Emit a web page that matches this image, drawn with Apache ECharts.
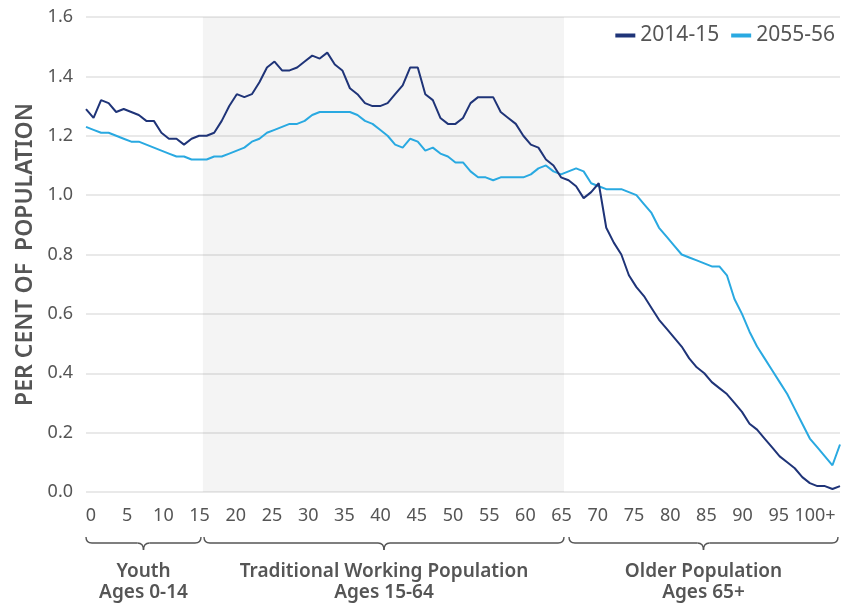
<!DOCTYPE html>
<html>

<head>
    <title>Population by age</title>
    <meta charset="utf-8">
    <script src="https://cdn.jsdelivr.net/npm/echarts@6/dist/echarts.min.js"></script>
    <style>
        html, body { margin: 0; padding: 0; background: #fff; }
    </style>
</head>

<body>
    <div id="ageChart" style="width: 844px;height:606px;"></div>
    <script>
        // single years of age 0..100 (100 = 100+)
        var ages = [];
        for (var a = 0; a <= 100; a++) ages.push(a);

        var pop2014 = [
            1.29, 1.26, 1.32, 1.31, 1.28, 1.29, 1.28, 1.27, 1.25, 1.25,
            1.21, 1.19, 1.19, 1.17, 1.19, 1.20, 1.20, 1.21, 1.25, 1.30,
            1.34, 1.33, 1.34, 1.38, 1.43, 1.45, 1.42, 1.42, 1.43, 1.45,
            1.47, 1.46, 1.48, 1.44, 1.42, 1.36, 1.34, 1.31, 1.30, 1.30,
            1.31, 1.34, 1.37, 1.43, 1.43, 1.34, 1.32, 1.26, 1.24, 1.24,
            1.26, 1.31, 1.33, 1.33, 1.33, 1.28, 1.26, 1.24, 1.20, 1.17,
            1.16, 1.12, 1.10, 1.06, 1.05, 1.03, 0.99, 1.01, 1.04, 0.89,
            0.84, 0.80, 0.73, 0.69, 0.66, 0.62, 0.58, 0.55, 0.52, 0.49,
            0.45, 0.42, 0.40, 0.37, 0.35, 0.33, 0.30, 0.27, 0.23, 0.21,
            0.18, 0.15, 0.12, 0.10, 0.08, 0.05, 0.03, 0.02, 0.02, 0.01,
            0.02
        ];

        var pop2055 = [
            1.23, 1.22, 1.21, 1.21, 1.20, 1.19, 1.18, 1.18, 1.17, 1.16,
            1.15, 1.14, 1.13, 1.13, 1.12, 1.12, 1.12, 1.13, 1.13, 1.14,
            1.15, 1.16, 1.18, 1.19, 1.21, 1.22, 1.23, 1.24, 1.24, 1.25,
            1.27, 1.28, 1.28, 1.28, 1.28, 1.28, 1.27, 1.25, 1.24, 1.22,
            1.20, 1.17, 1.16, 1.19, 1.18, 1.15, 1.16, 1.14, 1.13, 1.11,
            1.11, 1.08, 1.06, 1.06, 1.05, 1.06, 1.06, 1.06, 1.06, 1.07,
            1.09, 1.10, 1.08, 1.07, 1.08, 1.09, 1.08, 1.04, 1.03, 1.02,
            1.02, 1.02, 1.01, 1.00, 0.97, 0.94, 0.89, 0.86, 0.83, 0.80,
            0.79, 0.78, 0.77, 0.76, 0.76, 0.73, 0.65, 0.60, 0.54, 0.49,
            0.45, 0.41, 0.37, 0.33, 0.28, 0.23, 0.18, 0.15, 0.12, 0.09,
            0.16
        ];

        var tickAges = [0, 5, 10, 15, 20, 25, 30, 35, 40, 45, 50, 55, 60, 65, 70, 75, 80, 85, 90, 95, 100];

        var groups = [
            { name: 'Youth', sub: 'Ages 0-14', x1: 86, x2: 201 },
            { name: 'Traditional Working Population', sub: 'Ages 15-64', x1: 204, x2: 564 },
            { name: 'Older Population', sub: 'Ages 65+', x1: 569, x2: 838 }
        ];

        var FONT = '"Noto Sans", Lato, sans-serif';
        var textColor = '#555';

        // curly brace made of quadratic curves and straight lines
        function brace(x1, x2, y0) {
            var ym = y0 + 6, yt = y0 + 13, xm = (x1 + x2) / 2, r = 6;
            var st = { stroke: textColor, lineWidth: 1.4, fill: null };
            return [
                { type: 'bezierCurve', shape: { x1: x1, y1: y0, cpx1: x1, cpy1: ym, x2: x1 + r, y2: ym }, style: st },
                { type: 'line', shape: { x1: x1 + r, y1: ym, x2: xm - r, y2: ym }, style: st },
                { type: 'bezierCurve', shape: { x1: xm - r, y1: ym, cpx1: xm, cpy1: ym, x2: xm, y2: yt }, style: st },
                { type: 'bezierCurve', shape: { x1: xm, y1: yt, cpx1: xm, cpy1: ym, x2: xm + r, y2: ym }, style: st },
                { type: 'line', shape: { x1: xm + r, y1: ym, x2: x2 - r, y2: ym }, style: st },
                { type: 'bezierCurve', shape: { x1: x2 - r, y1: ym, cpx1: x2, cpy1: ym, x2: x2, y2: y0 }, style: st }
            ];
        }

        var graphics = [];
        groups.forEach(function (g) {
            graphics = graphics.concat(brace(g.x1, g.x2, 537));
            graphics.push({
                type: 'text',
                x: (g.x1 + g.x2) / 2,
                y: 561,
                style: {
                    text: g.name + '\n' + g.sub,
                    align: 'center',
                    verticalAlign: 'top',
                    lineHeight: 21,
                    font: '600 19px ' + FONT,
                    fill: textColor
                }
            });
        });

        var chart = echarts.init(document.getElementById('ageChart'));
        var option = {
            animation: false,
            textStyle: { fontFamily: FONT },
            legend: {
                data: ['2014-15', '2055-56'],
                right: 4,
                top: 20,
                icon: 'rect',
                itemWidth: 20,
                itemHeight: 4,
                itemGap: 12,
                itemStyle: { borderWidth: 0 },
                textStyle: { fontSize: 21, color: textColor, fontFamily: FONT }
            },
            grid: { left: 86, right: 4, top: 17, bottom: 114 },
            xAxis: [
                {
                    type: 'value',
                    min: 0,
                    max: 100,
                    show: false
                },
                {
                    type: 'value',
                    min: -0.69,
                    max: 103.45,
                    position: 'bottom',
                    axisLine: { show: false },
                    axisTick: { show: false },
                    splitLine: { show: false },
                    axisLabel: {
                        customValues: tickAges,
                        margin: 15,
                        fontSize: 18,
                        color: textColor,
                        formatter: function (v) { return v === 100 ? '100+' : String(v); }
                    }
                }
            ],
            yAxis: {
                type: 'value',
                min: 0,
                max: 1.6,
                interval: 0.2,
                name: 'PER CENT OF  POPULATION',
                nameLocation: 'middle',
                nameGap: 49,
                nameTextStyle: { fontSize: 23, fontWeight: 600, color: textColor },
                axisLine: { show: false },
                axisTick: { show: false },
                axisLabel: {
                    margin: 13,
                    fontSize: 18,
                    color: textColor,
                    formatter: function (v) { return v.toFixed(1); }
                },
                splitLine: { lineStyle: { color: '#e2e2e2', width: 1.5 } }
            },
            series: [
                {
                    name: '2014-15',
                    type: 'line',
                    xAxisIndex: 0,
                    data: ages.map(function (a, i) { return [a, pop2014[i]]; }),
                    showSymbol: false,
                    lineStyle: { color: '#1f3478', width: 2 },
                    itemStyle: { color: '#1f3478' },
                    z: 3,
                    markArea: {
                        silent: true,
                        itemStyle: { color: 'rgba(0,0,0,0.045)' },
                        data: [[{ xAxis: 15.5 }, { xAxis: 63.4 }]]
                    }
                },
                {
                    name: '2055-56',
                    type: 'line',
                    xAxisIndex: 0,
                    data: ages.map(function (a, i) { return [a, pop2055[i]]; }),
                    showSymbol: false,
                    lineStyle: { color: '#29a9e1', width: 2 },
                    itemStyle: { color: '#29a9e1' },
                    z: 2
                }
            ],
            graphic: graphics
        };
        chart.setOption(option);
    </script>
</body>

</html>
